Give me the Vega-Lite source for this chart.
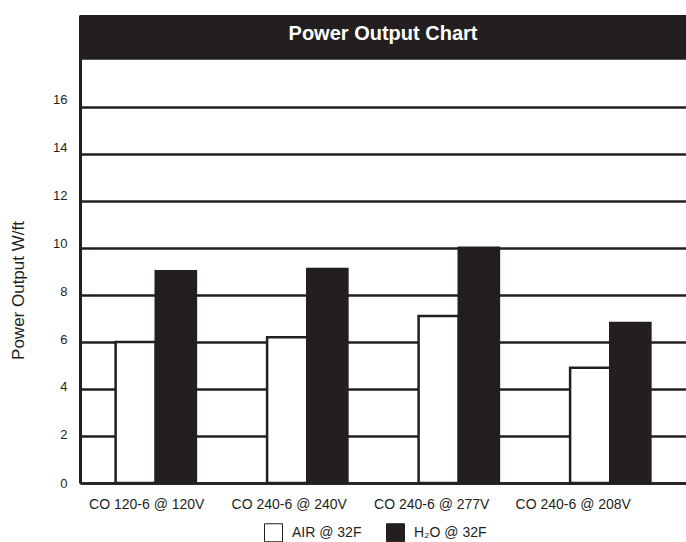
{
  "$schema": "https://vega.github.io/schema/vega-lite/v6.json",
  "width": 606,
  "height": 468,
  "autosize": {"type": "none"},
  "padding": {"left": 80, "top": 15, "right": 0, "bottom": 59},
  "background": "white",
  "config": {"view": {"stroke": null}, "font": "Liberation Sans"},
  "data": {
    "values": [
      {"model": "CO 120-6 @ 120V", "medium": "AIR @ 32F", "watts": 6.0},
      {"model": "CO 120-6 @ 120V", "medium": "H₂O @ 32F", "watts": 9.0},
      {"model": "CO 240-6 @ 240V", "medium": "AIR @ 32F", "watts": 6.2},
      {"model": "CO 240-6 @ 240V", "medium": "H₂O @ 32F", "watts": 9.1},
      {"model": "CO 240-6 @ 277V", "medium": "AIR @ 32F", "watts": 7.1},
      {"model": "CO 240-6 @ 277V", "medium": "H₂O @ 32F", "watts": 10.0},
      {"model": "CO 240-6 @ 208V", "medium": "AIR @ 32F", "watts": 4.9},
      {"model": "CO 240-6 @ 208V", "medium": "H₂O @ 32F", "watts": 6.8}
    ]
  },
  "layer": [
    {
      "mark": {"type": "bar", "stroke": "#231f20", "strokeWidth": 2.5},
      "encoding": {
        "x": {
          "field": "model", "type": "nominal", "sort": null,
          "scale": {"paddingInner": 0.47, "paddingOuter": 0.235},
          "axis": {
            "title": null, "ticks": false, "grid": false,
            "domainColor": "#231f20", "domainWidth": 2.5,
            "labelFontSize": 14, "labelColor": "#231f20", "labelPadding": 14, "labelAngle": 0,
            "labelOffset": {
              "condition": [
                {"test": "datum.value === 'CO 120-6 @ 120V'", "value": -9},
                {"test": "datum.value === 'CO 240-6 @ 240V'", "value": -18},
                {"test": "datum.value === 'CO 240-6 @ 277V'", "value": -27}
              ],
              "value": -37
            }
          }
        },
        "xOffset": {"field": "medium", "type": "nominal", "sort": null, "scale": {"paddingInner": 0}},
        "y": {
          "field": "watts", "type": "quantitative",
          "scale": {"domain": [0, 19.9], "nice": false, "zero": true},
          "axis": {
            "values": [0, 2, 4, 6, 8, 10, 12, 14, 16],
            "title": "Power Output W/ft",
            "grid": true, "gridColor": "#231f20", "gridWidth": 2.5, "gridOpacity": 1,
            "ticks": false, "domainColor": "#231f20", "domainWidth": 3,
            "labelFontSize": 13, "labelColor": "#231f20", "labelPadding": 13,
            "labelOffset": {
              "condition": [
                {"test": "datum.value === 2", "value": -1},
                {"test": "datum.value === 4", "value": -2},
                {"test": "datum.value === 6", "value": -2.5},
                {"test": "datum.value === 8", "value": -3.5},
                {"test": "datum.value === 10", "value": -4.5},
                {"test": "datum.value === 12", "value": -5.5},
                {"test": "datum.value === 14", "value": -6.5},
                {"test": "datum.value === 16", "value": -7.5}
              ],
              "value": 0
            },
            "titleFontSize": 17, "titleFontWeight": "normal", "titleColor": "#231f20",
            "titleX": -62, "titleY": 275, "titleAngle": 270,
            "titleBaseline": "middle", "titleAlign": "center"
          }
        },
        "fill": {
          "field": "medium", "type": "nominal", "sort": null,
          "scale": {"range": ["#ffffff", "#231f20"]},
          "legend": {
            "title": null, "orient": "none", "legendX": 184, "legendY": 508,
            "direction": "horizontal", "symbolType": "square", "symbolSize": 324,
            "symbolStrokeColor": "#231f20", "symbolStrokeWidth": 1, "symbolOpacity": 1,
            "labelFontSize": 14, "labelColor": "#231f20", "labelOffset": 9, "columnPadding": 22
          }
        }
      }
    },
    {
      "data": {"values": [{"heading": "Power Output Chart"}]},
      "mark": {"type": "rect", "color": "#231f20"},
      "encoding": {"y": {"datum": 18}, "y2": {"datum": 19.9}}
    },
    {
      "data": {"values": [{"heading": "Power Output Chart"}]},
      "mark": {"type": "text", "color": "#ffffff", "fontSize": 20, "fontWeight": "bold", "baseline": "alphabetic", "align": "center"},
      "encoding": {"y": {"datum": 18.85}, "text": {"field": "heading"}}
    }
  ]
}
